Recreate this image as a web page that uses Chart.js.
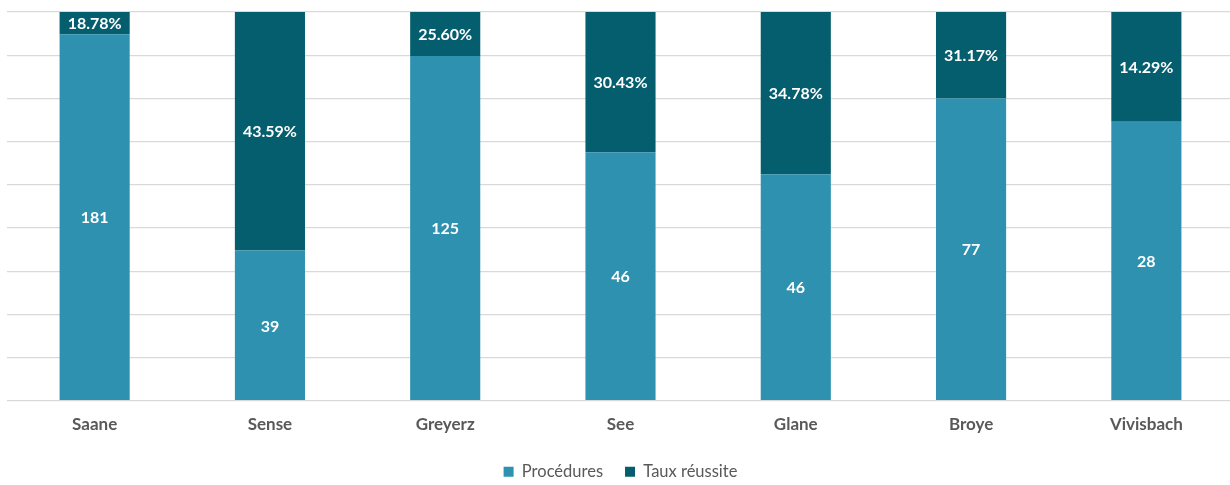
<!DOCTYPE html>
<html lang="fr">
<head>
<meta charset="utf-8">
<title>Procédures et taux de réussite par district</title>
<script src="https://cdn.jsdelivr.net/npm/chart.js@4"></script>
<style>
  html, body { margin: 0; padding: 0; background: #ffffff; overflow: hidden; }
  #wrap { width: 1240px; height: 485px; }
</style>
</head>
<body>
<div id="wrap"><canvas id="chart" width="1240" height="485"></canvas></div>
<script>
const districts = ["Saane", "Sense", "Greyerz", "See", "Glane", "Broye", "Vivisbach"];
const procedures = [181, 39, 125, 46, 46, 77, 28];
const tauxReussite = [18.78, 43.59, 25.60, 30.43, 34.78, 31.17, 14.29];
// upper segment, counted in the same units as the procedures
const segmentTaux = [11, 62, 16, 26, 33, 22, 11];

const palette = {
  procedures: "#2e91b0",
  taux: "#045e6e",
  grid: "#d9d9d9",
  text: "#595959",
};

const fontFamily = "Lato, 'Open Sans', sans-serif";

// each column is shown as a share of its own total (100 % stacked)
const totals = procedures.map((p, i) => p + segmentTaux[i]);
const shareProcedures = procedures.map((p, i) => (p / totals[i]) * 100);
const shareTaux = segmentTaux.map((t, i) => (t / totals[i]) * 100);

const valueLabels = {
  0: procedures.map((v) => String(v)),
  1: tauxReussite.map((v) => v.toFixed(2) + "%"),
};

const barLabels = {
  id: "barLabels",
  afterDatasetsDraw(chart) {
    const { ctx } = chart;
    ctx.save();
    ctx.fillStyle = "#ffffff";
    ctx.font = `bold 16px ${fontFamily}`;
    ctx.textAlign = "center";
    ctx.textBaseline = "middle";
    chart.data.datasets.forEach((dataset, di) => {
      const meta = chart.getDatasetMeta(di);
      meta.data.forEach((bar, i) => {
        const { x, y, base } = bar.getProps(["x", "y", "base"], true);
        ctx.fillText(valueLabels[di][i], x, (y + base) / 2 + 1);
      });
    });
    ctx.restore();
  },
};

new Chart(document.getElementById("chart"), {
  type: "bar",
  data: {
    labels: districts,
    datasets: [
      {
        label: "Procédures",
        data: shareProcedures,
        backgroundColor: palette.procedures,
        categoryPercentage: 1,
        barPercentage: 0.4,
      },
      {
        label: "Taux réussite",
        data: shareTaux,
        backgroundColor: palette.taux,
        categoryPercentage: 1,
        barPercentage: 0.4,
      },
    ],
  },
  options: {
    responsive: false,
    animation: false,
    devicePixelRatio: 1,
    layout: { padding: { left: 7, right: 6, top: 12, bottom: -5 } },
    plugins: {
      legend: {
        position: "bottom",
        labels: {
          boxWidth: 10,
          boxHeight: 10,
          padding: 22,
          color: palette.text,
          font: { family: fontFamily, size: 16.5 },
        },
      },
      tooltip: { enabled: false },
    },
    scales: {
      x: {
        stacked: true,
        grid: { display: false },
        border: { display: false },
        ticks: {
          color: palette.text,
          padding: 6,
          font: { family: fontFamily, size: 17, weight: "bold" },
        },
        afterFit(scale) {
          scale.height = 40.8;
        },
      },
      y: {
        stacked: true,
        min: 0,
        max: 100,
        grid: { color: palette.grid, lineWidth: 1.2, drawTicks: false },
        border: { display: false },
        ticks: { display: false, count: 10 },
      },
    },
  },
  plugins: [barLabels],
});
</script>
</body>
</html>
